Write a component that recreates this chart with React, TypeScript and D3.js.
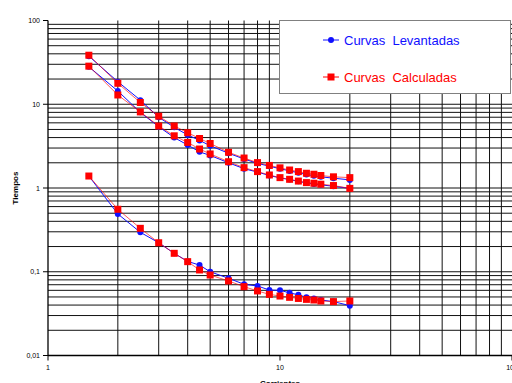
import React from "react";
import { scaleLog, line } from "d3";

// corrientes (x) shared by every series
const corrientes = [1.5, 2, 2.5, 3, 3.5, 4, 4.5, 5, 6, 7, 8, 9, 10, 11, 12, 13, 14, 15, 17, 20];

// upper pair of curves
const levantadaA = [37.5, 18.6, 11.2, 7.0, 5.3, 4.3, 3.7, 3.2, 2.6, 2.22, 1.97, 1.82, 1.7, 1.6, 1.52, 1.45, 1.4, 1.36, 1.31, 1.25];
const calculadaA = [38.5, 17.8, 10.5, 7.2, 5.5, 4.57, 3.9, 3.4, 2.67, 2.28, 2.01, 1.86, 1.74, 1.64, 1.57, 1.5, 1.46, 1.41, 1.36, 1.33];
const levantadaB = [28, 14.4, 8.0, 5.4, 4.0, 3.26, 2.7, 2.45, 2.0, 1.7, 1.55, 1.41, 1.32, 1.26, 1.2, 1.15, 1.12, 1.09, 1.05, 0.99];
const calculadaB = [28.5, 12.9, 8.1, 5.5, 4.2, 3.5, 2.92, 2.55, 2.06, 1.75, 1.57, 1.43, 1.33, 1.27, 1.21, 1.16, 1.14, 1.11, 1.07, 0.99];

// lower curve
const levantadaC = [1.39, 0.49, 0.296, 0.222, 0.166, 0.133, 0.12, 0.1, 0.0836, 0.0708, 0.0676, 0.0605, 0.06, 0.056, 0.053, 0.0495, 0.048, 0.046, 0.044, 0.0394];
const calculadaC = [1.39, 0.557, 0.33, 0.222, 0.166, 0.132, 0.105, 0.0914, 0.0776, 0.0664, 0.059, 0.0537, 0.0513, 0.0495, 0.048, 0.0468, 0.046, 0.0448, 0.044, 0.0448];

const yTicks = [100, 10, 1, 0.1, 0.01];
const yTickLabels = ["100", "10", "1", "0,1", "0,01"];
const xTicks = [1, 10, 100];
const xTickLabels = ["1", "10", "100"];

const BLUE = "#1010ff";
const RED = "#ff0000";

const xScale = scaleLog().domain([1, 100]).range([48, 512]);
const yScale = scaleLog().domain([0.01, 100]).range([355.5, 20.5]);

const minorX: number[] = [];
for (const d of [1, 10]) for (let k = 2; k <= 9; k++) minorX.push(d * k);
const minorY: number[] = [];
for (const d of [0.01, 0.1, 1, 10]) for (let k = 1; k <= 9; k++) minorY.push(d * k);

const App = () => {
  const pathOf = (vals: number[]) =>
    line<number>()
      .x((_, i) => xScale(corrientes[i]))
      .y(v => yScale(v))(vals) || "";

  const blues = [levantadaA, levantadaB, levantadaC];
  const reds = [calculadaA, calculadaB, calculadaC];
  const [x0, x1] = xScale.range();
  const [y0, y1] = yScale.range();

  return (
    <svg width={512} height={383} style={{ position: "absolute", left: 0, top: 0 }}
      fontFamily="Liberation Sans, Arial, sans-serif">
      <rect width={512} height={383} fill="#fff" />
      {/* grid */}
      {minorY.map(v => (
        <line key={"gy" + v} x1={x0} x2={x1} y1={yScale(v)} y2={yScale(v)} stroke="#111" strokeWidth={1} />
      ))}
      {minorX.map(v => (
        <line key={"gx" + v} x1={xScale(v)} x2={xScale(v)} y1={y1} y2={y0} stroke="#111" strokeWidth={1} />
      ))}
      {/* axes */}
      <line x1={x0} x2={x0} y1={y1} y2={y0} stroke="#000" strokeWidth={1.3} />
      <line x1={x0} x2={x1} y1={y0} y2={y0} stroke="#000" strokeWidth={1.3} />
      {yTicks.map((t, i) => (
        <g key={"yt" + t}>
          <line x1={x0 - 5} x2={x0} y1={yScale(t)} y2={yScale(t)} stroke="#000" />
          <text x={x0 - 8} y={yScale(t) + 2.5} fontSize={7} textAnchor="end">{yTickLabels[i]}</text>
        </g>
      ))}
      {xTicks.map((t, i) => (
        <g key={"xt" + t}>
          <line x1={xScale(t)} x2={xScale(t)} y1={y0} y2={y0 + 5} stroke="#000" />
          <text x={xScale(t)} y={y0 + 14} fontSize={7} textAnchor="middle">{xTickLabels[i]}</text>
        </g>
      ))}
      <text x={280} y={386} fontSize={8} fontWeight="bold" textAnchor="middle">Corrientes</text>
      <text transform="translate(18,188) rotate(-90)" fontSize={8} fontWeight="bold" textAnchor="middle">Tiempos</text>

      {/* series */}
      {blues.map((s, j) => (
        <g key={"b" + j}>
          <path d={pathOf(s)} fill="none" stroke={BLUE} strokeWidth={1} />
          {s.map((v, i) => (
            <circle key={i} cx={xScale(corrientes[i])} cy={yScale(v)} r={3} fill={BLUE} />
          ))}
        </g>
      ))}
      {reds.map((s, j) => (
        <g key={"r" + j}>
          <path d={pathOf(s)} fill="none" stroke={RED} strokeWidth={0.8} strokeOpacity={0.8} />
          {s.map((v, i) => (
            <rect key={i} x={xScale(corrientes[i]) - 3.5} y={yScale(v) - 3.5} width={7} height={7} fill={RED} />
          ))}
        </g>
      ))}

      {/* legend */}
      <rect x={279.5} y={20.5} width={231} height={73} fill="#fff" stroke="#808080" strokeWidth={1} />
      <line x1={323} x2={339} y1={40} y2={40} stroke={BLUE} />
      <circle cx={331} cy={40} r={3} fill={BLUE} />
      <text x={344} y={44.5} fontSize={13} fill={BLUE} style={{ whiteSpace: "pre" }}>Curvas  Levantadas</text>
      <line x1={323} x2={339} y1={77} y2={77} stroke={RED} />
      <rect x={327.5} y={73.5} width={7} height={7} fill={RED} />
      <text x={344} y={81.5} fontSize={13} fill={RED} style={{ whiteSpace: "pre" }}>Curvas  Calculadas</text>
    </svg>
  );
};

export default App;
